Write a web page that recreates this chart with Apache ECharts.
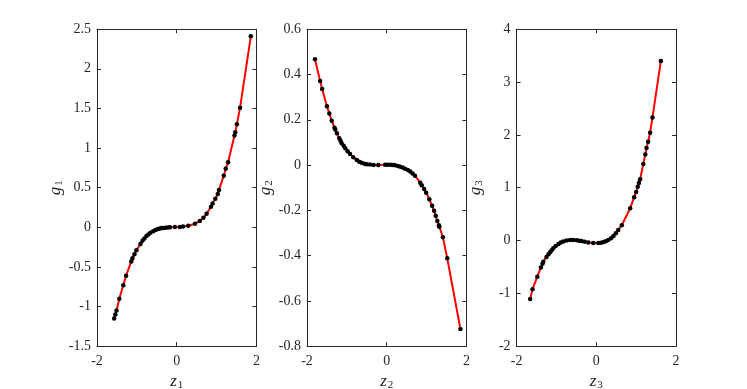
<!DOCTYPE html>
<html>
<head>
<meta charset="utf-8">
<script src="https://cdn.jsdelivr.net/npm/echarts@6/dist/echarts.min.js"></script>
<style>
  html, body { margin: 0; padding: 0; background: #fff; }
  #chart { width: 747px; height: 389px; }
</style>
</head>
<body>
<div id="chart"></div>
<script>
// points: [z, g]
const g1Points = [
  [-1.57, -1.15], [-1.54, -1.10], [-1.51, -1.05], [-1.44, -0.90], [-1.34, -0.73],
  [-1.27, -0.61], [-1.14, -0.43], [-1.11, -0.39], [-1.06, -0.34], [-1.01, -0.29],
  [-0.91, -0.21], [-0.86, -0.17], [-0.81, -0.14], [-0.76, -0.11], [-0.71, -0.09],
  [-0.66, -0.07], [-0.59, -0.05], [-0.53, -0.035], [-0.47, -0.022], [-0.42, -0.015],
  [-0.38, -0.01], [-0.33, -0.007], [-0.28, -0.004], [-0.22, -0.002], [-0.17, 0],
  [-0.045, 0.003], [0.08, 0.004], [0.16, 0.009], [0.29, 0.02], [0.46, 0.046],
  [0.58, 0.08], [0.67, 0.12], [0.75, 0.17], [0.86, 0.26], [0.90, 0.30],
  [0.97, 0.36], [1.03, 0.42], [1.06, 0.47], [1.18, 0.65], [1.23, 0.74],
  [1.29, 0.82], [1.45, 1.16], [1.47, 1.20], [1.51, 1.30], [1.59, 1.51],
  [1.86, 2.41]
]
const g2Points = [
  [-1.80, 0.467], [-1.67, 0.371], [-1.62, 0.336], [-1.50, 0.26], [-1.44, 0.228],
  [-1.38, 0.196], [-1.31, 0.165], [-1.29, 0.157], [-1.25, 0.14], [-1.19, 0.118],
  [-1.16, 0.107], [-1.13, 0.096], [-1.08, 0.085], [-1.04, 0.074], [-0.98, 0.061],
  [-0.92, 0.049], [-0.84, 0.035], [-0.75, 0.022], [-0.69, 0.015], [-0.63, 0.010],
  [-0.56, 0.006], [-0.50, 0.004], [-0.42, 0.002], [-0.33, 0], [-0.21, 0],
  [-0.04, 0.001], [0.02, 0.001], [0.09, 0.001], [0.15, 0], [0.21, -0.001],
  [0.28, -0.004], [0.34, -0.007], [0.40, -0.011], [0.46, -0.016], [0.53, -0.022],
  [0.59, -0.029], [0.65, -0.037], [0.71, -0.047], [0.84, -0.078], [0.88, -0.089],
  [0.94, -0.106], [0.99, -0.122], [1.07, -0.151], [1.14, -0.18], [1.19, -0.202],
  [1.23, -0.224], [1.27, -0.247], [1.31, -0.266], [1.32, -0.272], [1.41, -0.319],
  [1.52, -0.412], [1.85, -0.724]
]
const g3Points = [
  [-1.66, -1.107], [-1.60, -0.92], [-1.48, -0.685], [-1.39, -0.51], [-1.35, -0.44],
  [-1.33, -0.40], [-1.25, -0.31], [-1.20, -0.26], [-1.16, -0.224], [-1.12, -0.185],
  [-1.08, -0.148], [-1.02, -0.105], [-0.95, -0.066], [-0.89, -0.038], [-0.83, -0.016],
  [-0.75, 0], [-0.66, 0.01], [-0.58, 0.008], [-0.49, 0.003], [-0.43, -0.003],
  [-0.37, -0.01], [-0.29, -0.022], [-0.20, -0.035], [-0.075, -0.047], [0.05, -0.047],
  [0.12, -0.04], [0.18, -0.028], [0.24, -0.012], [0.30, 0.01], [0.37, 0.045],
  [0.43, 0.085], [0.49, 0.14], [0.55, 0.2], [0.64, 0.29], [0.85, 0.61],
  [0.95, 0.82], [1.00, 0.92], [1.04, 1.02], [1.07, 1.09], [1.10, 1.16],
  [1.18, 1.45], [1.23, 1.63], [1.26, 1.75], [1.30, 1.87], [1.35, 2.04],
  [1.41, 2.33], [1.62, 3.40]
]

const zTicks = [-2, 0, 2]
const g1Ticks = [-1.5, -1, -0.5, 0, 0.5, 1, 1.5, 2, 2.5]
const g2Ticks = [-0.8, -0.6, -0.4, -0.2, 0, 0.2, 0.4, 0.6]
const g3Ticks = [-2, -1, 0, 1, 2, 3, 4]

const panels = [
  { pts: g1Points, ticks: g1Ticks, sub: '1', left: 97 },
  { pts: g2Points, ticks: g2Ticks, sub: '2', left: 307 },
  { pts: g3Points, ticks: g3Ticks, sub: '3', left: 516.6 }
]

const ink = '#262626'
const fontFamily = '"Liberation Serif", "DejaVu Serif", serif'

const nameRich = {
  i: { fontFamily, fontStyle: 'italic', fontSize: 17, color: ink },
  s: { fontFamily, fontSize: 11, color: ink, padding: [7, 0, 0, 1] }
}

function fmt(v) {
  return String(Math.round(v * 100) / 100)
}

const chart = echarts.init(document.getElementById('chart'), null, { renderer: 'canvas' })

const grid = []
const xAxis = []
const yAxis = []
const series = []

panels.forEach((p, k) => {
  // keep the plot box fixed, labels may sit outside it
  grid.push({ left: p.left, top: 29.2, width: 159.4, height: 317, containLabel: false, outerBoundsMode: 'none' })
  const zStep = zTicks[1] - zTicks[0]
  const gStep = p.ticks[1] - p.ticks[0]
  const axisLine = { show: true, onZero: false, lineStyle: { color: ink, width: 1 } }
  const tick = { show: true, inside: true, length: 4, lineStyle: { color: ink } }
  // bottom x axis
  xAxis.push({
    gridIndex: k, type: 'value', position: 'bottom',
    min: zTicks[0], max: zTicks[zTicks.length - 1], interval: zStep,
    axisLine, axisTick: tick, splitLine: { show: false },
    axisLabel: { color: ink, fontFamily, fontSize: 14, margin: 8, formatter: fmt },
    name: '{i|z}{s|' + p.sub + '}', nameLocation: 'middle', nameGap: 19,
    nameTextStyle: { rich: nameRich }
  })
  // top box edge
  xAxis.push({
    gridIndex: k, type: 'value', position: 'top',
    min: zTicks[0], max: zTicks[zTicks.length - 1], interval: zStep,
    axisLine, axisTick: tick, axisLabel: { show: false }, splitLine: { show: false }
  })
  // left y axis
  yAxis.push({
    gridIndex: k, type: 'value', position: 'left',
    min: p.ticks[0], max: p.ticks[p.ticks.length - 1], interval: gStep,
    axisLine, axisTick: tick, splitLine: { show: false },
    axisLabel: { color: ink, fontFamily, fontSize: 14, margin: 6, formatter: fmt },
    name: '{i|g}{s|' + p.sub + '}', nameLocation: 'middle', nameGap: 32, nameRotate: 90,
    nameTextStyle: { rich: nameRich }
  })
  // right box edge
  yAxis.push({
    gridIndex: k, type: 'value', position: 'right',
    min: p.ticks[0], max: p.ticks[p.ticks.length - 1], interval: gStep,
    axisLine, axisTick: tick, axisLabel: { show: false }, splitLine: { show: false }
  })
  series.push({
    type: 'line',
    xAxisIndex: k * 2,
    yAxisIndex: k * 2,
    data: p.pts,
    symbol: 'circle',
    symbolSize: 4.5,
    showAllSymbol: true,
    itemStyle: { color: '#000' },
    lineStyle: { color: '#ff0000', width: 2 },
    animation: false
  })
})

chart.setOption({
  animation: false,
  grid,
  xAxis,
  yAxis,
  series
})
</script>
</body>
</html>
